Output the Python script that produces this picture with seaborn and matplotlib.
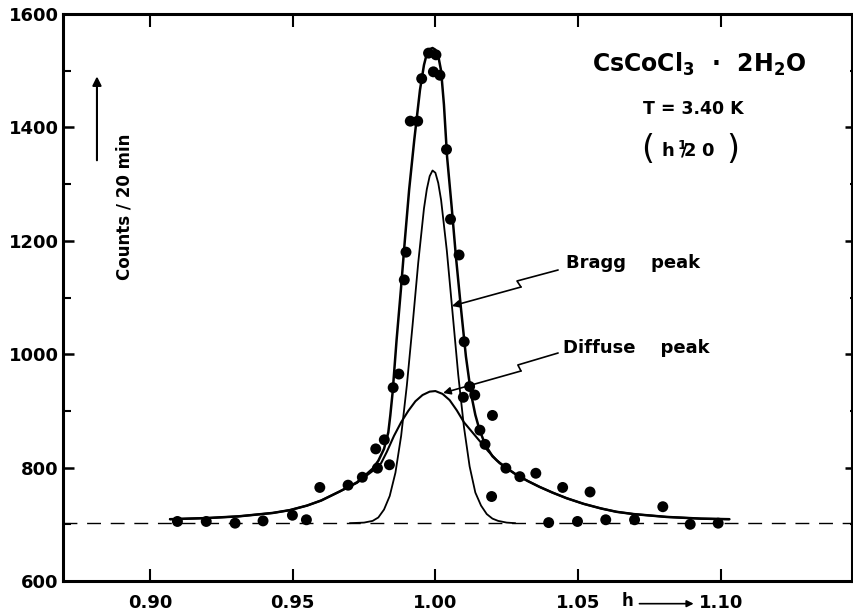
import matplotlib
matplotlib.use("Agg")
import matplotlib.pyplot as plt
import seaborn as sns
import pandas as pd

# ---------------- data ----------------
h_points = [0.9096, 0.9197, 0.9298, 0.9396, 0.9499, 0.9548, 0.9595, 0.9694, 0.9744,
            0.9791, 0.9797, 0.9821, 0.9839, 0.9852, 0.9872, 0.9891, 0.9897, 0.9912,
            0.9938, 0.9952, 0.9976, 0.9993, 1.0002, 1.0016, 1.0039, 1.0053, 1.0083,
            1.0098, 1.0101, 1.0120, 1.0138, 1.0156, 1.0174, 1.0197, 1.0200, 1.0247,
            1.0296, 1.0352, 1.0397, 1.0446, 1.0498, 1.0542, 1.0597, 1.0698, 1.0797,
            1.0893, 1.0991]
counts_points = [705, 705, 702, 706, 716, 708, 765, 769, 783,
                 833, 799, 849, 805, 941, 965, 1131, 1180, 1411,
                 1411, 1486, 1531, 1498, 1528, 1492, 1361, 1238, 1175,
                 924, 1022, 943, 928, 866, 841, 749, 892, 799,
                 784, 790, 703, 765, 705, 757, 708, 708, 731,
                 700, 702]

fit_h = [0.907, 0.920, 0.931, 0.943, 0.949, 0.955, 0.960, 0.9665, 0.9725, 0.976,
         0.978, 0.980, 0.982, 0.9835, 0.9842, 0.985, 0.9864, 0.9879, 0.9893, 0.9908,
         0.9926, 0.9946, 0.996, 0.997, 0.998, 0.999, 1.000, 1.001, 1.002, 1.003,
         1.0041, 1.0057, 1.0072, 1.0089, 1.0107, 1.0125, 1.014, 1.0155, 1.0175, 1.020,
         1.0225, 1.025, 1.0285, 1.0325, 1.0365, 1.041, 1.046, 1.052, 1.058, 1.0635,
         1.0695, 1.081, 1.093, 1.103]
fit_counts = [709, 711, 714, 720, 725, 733, 742, 758, 774, 789,
              798, 812, 833, 862, 892, 932, 1025, 1113, 1201, 1290,
              1378, 1466, 1510, 1530, 1538, 1540, 1537, 1526, 1500, 1440,
              1348, 1260, 1172, 1084, 996, 930, 893, 866, 840, 820,
              808, 799, 787, 776, 766, 756, 746, 736, 728, 722,
              718, 713, 710, 709]

bragg_h = [0.970, 0.975, 0.978, 0.980, 0.982, 0.984, 0.986, 0.988, 0.990, 0.992,
           0.994, 0.996, 0.997, 0.998, 0.999, 1.000, 1.001, 1.002, 1.004, 1.006,
           1.008, 1.010, 1.012, 1.014, 1.016, 1.018, 1.020, 1.022, 1.025, 1.028]
bragg_counts = [702, 703, 706, 712, 726, 750, 791, 856, 945, 1051,
                1162, 1257, 1291, 1314, 1324, 1320, 1302, 1272, 1183, 1074,
                964, 872, 802, 756, 733, 718, 710, 706, 703, 702]

diffuse_h = [0.907, 0.920, 0.931, 0.943, 0.949, 0.955, 0.960, 0.9665, 0.9725, 0.978,
             0.981, 0.983, 0.9855, 0.988, 0.9905, 0.993, 0.9955, 0.998, 1.000, 1.0025,
             1.005, 1.0075, 1.010, 1.013, 1.0155, 1.0185, 1.0215, 1.025, 1.0285, 1.0325,
             1.0365, 1.041, 1.046, 1.052, 1.058, 1.0635, 1.0695, 1.081, 1.093, 1.103]
diffuse_counts = [709, 711, 714, 720, 725, 733, 742, 758, 773, 794,
                  808, 828, 856, 880, 900, 917, 928, 934, 935, 930,
                  919, 901, 880, 862, 847, 829, 813, 799, 787, 776,
                  766, 756, 746, 736, 728, 722, 718, 713, 710, 709]

baseline = 702
x_ticks = [0.90, 0.95, 1.00, 1.05, 1.10]
x_tick_labels = ["0.90", "0.95", "1.00", "1.05", "1.10"]
y_ticks = [600, 800, 1000, 1200, 1400, 1600]
y_tick_labels = ["600", "800", "1000", "1200", "1400", "1600"]
y_minor_ticks = [700, 900, 1100, 1300, 1500]

# ---------------- figure ----------------
sns.set_theme(style="ticks")
plt.rcParams["font.family"] = ["DejaVu Sans"]
plt.rcParams["font.weight"] = "bold"
plt.rcParams["mathtext.fontset"] = "dejavusans"
plt.rcParams["text.color"] = "black"
plt.rcParams["axes.labelcolor"] = "black"
plt.rcParams["xtick.color"] = "black"
plt.rcParams["ytick.color"] = "black"

fig = plt.figure(figsize=(8.54, 6.13), dpi=100)
ax = fig.add_axes([63 / 854, 32 / 613, 789 / 854, 567 / 613])

fit_df = pd.DataFrame({"h": fit_h, "counts": fit_counts})
bragg_df = pd.DataFrame({"h": bragg_h, "counts": bragg_counts})
diff_df = pd.DataFrame({"h": diffuse_h, "counts": diffuse_counts})
pts_df = pd.DataFrame({"h": h_points, "counts": counts_points})

ax.axhline(baseline, color="black", lw=1.0, ls=(0, (10, 7)), zorder=1)
sns.lineplot(data=diff_df, x="h", y="counts", ax=ax, color="black", lw=1.5,
             estimator=None, sort=False, zorder=2)
sns.lineplot(data=bragg_df, x="h", y="counts", ax=ax, color="black", lw=1.3,
             estimator=None, sort=False, zorder=2)
sns.lineplot(data=fit_df, x="h", y="counts", ax=ax, color="black", lw=1.8,
             estimator=None, sort=False, zorder=3)
sns.scatterplot(data=pts_df, x="h", y="counts", ax=ax, color="black", s=62,
                edgecolor="none", linewidth=0, zorder=5)

ax.set_xlim(0.8695, 1.146)
ax.set_ylim(600, 1600)
ax.set_xlabel("")
ax.set_ylabel("")

ax.set_xticks(x_ticks)
ax.set_xticklabels(x_tick_labels, fontsize=13, fontweight="bold", color="black")
ax.set_yticks(y_ticks)
ax.set_yticklabels(y_tick_labels, fontsize=13, fontweight="bold", color="black")
ax.set_yticks(y_minor_ticks, minor=True)

ax.tick_params(axis="x", which="major", direction="in", length=9, width=1.5,
               top=True, bottom=True, pad=9, colors="black")
ax.tick_params(axis="y", which="major", direction="in", length=8, width=1.8,
               left=True, right=True, pad=3, colors="black")
ax.tick_params(axis="y", which="minor", direction="in", length=6, width=1.5,
               left=True, right=True, colors="black")
for t in ax.yaxis.get_major_ticks():
    t.tick2line.set_markersize(5)
for t in ax.yaxis.get_minor_ticks():
    t.tick2line.set_markersize(1.5)

for s in ax.spines.values():
    s.set_linewidth(2.2)
    s.set_color("black")

# ---------------- annotations ----------------
ax.text(1.0925, 1498, r"CsCoCl$_\mathbf{3}$  ·  2H$_\mathbf{2}$O", fontsize=17,
        fontweight="bold", ha="center", va="baseline", color="black")
ax.text(1.0903, 1424, "T = 3.40 K", fontsize=12.5, fontweight="bold",
        ha="center", va="baseline", color="black")

# (h 1/2 0): tall parentheses drawn separately around the index text
ax.text(1.0743, 1344, "(", fontsize=24, fontweight="normal", ha="center",
        va="baseline", color="black")
ax.text(1.1042, 1344, ")", fontsize=24, fontweight="normal", ha="center",
        va="baseline", color="black")
ax.text(1.0884, 1348, r"$\mathbf{h}\,{}^{\mathbf{1}}\!\!/\!\mathbf{2}\;\mathbf{0}$",
        fontsize=13, ha="center", va="baseline", color="black")

ax.text(1.0458, 1161, "Bragg    peak", fontsize=13, fontweight="bold",
        ha="left", va="center", color="black")
ax.text(1.0447, 1011, "Diffuse    peak", fontsize=13, fontweight="bold",
        ha="left", va="center", color="black")

# lightning-style pointer lines
ax.plot([1.0430, 1.0286, 1.0300], [1148.5, 1129.1, 1118.5], color="black", lw=1.2)
ax.annotate("", xy=(1.0058, 1085.0), xytext=(1.0300, 1118.5),
            arrowprops=dict(arrowstyle="-|>", color="black", lw=1.2,
                            mutation_scale=11, shrinkA=0, shrinkB=0))
ax.plot([1.0430, 1.0289, 1.0300], [1002.1, 981.0, 970.4], color="black", lw=1.2)
ax.annotate("", xy=(1.0027, 931.6), xytext=(1.0300, 970.4),
            arrowprops=dict(arrowstyle="-|>", color="black", lw=1.2,
                            mutation_scale=11, shrinkA=0, shrinkB=0))

# y-axis label inside the frame
ax.text(0.8912, 1260, "Counts / 20 min", rotation=90, fontsize=12,
        fontweight="bold", ha="center", va="center", color="black")
ax.annotate("", xy=(0.8814, 1490), xytext=(0.8814, 1342),
            arrowprops=dict(arrowstyle="-|>", color="black", lw=1.5,
                            mutation_scale=13, shrinkA=0, shrinkB=0))

# x-axis "h ->" label
trans = ax.get_xaxis_transform()
ax.text(1.0675, -0.036, "h", transform=trans, fontsize=12, fontweight="bold",
        ha="center", va="center", clip_on=False, color="black")
ax.annotate("", xy=(1.0905, -0.040), xytext=(1.0715, -0.040), xycoords=trans,
            textcoords=trans,
            arrowprops=dict(arrowstyle="-|>", color="black", lw=1.2,
                            mutation_scale=10, shrinkA=0, shrinkB=0),
            annotation_clip=False)

fig.savefig("out.png", dpi=100)
